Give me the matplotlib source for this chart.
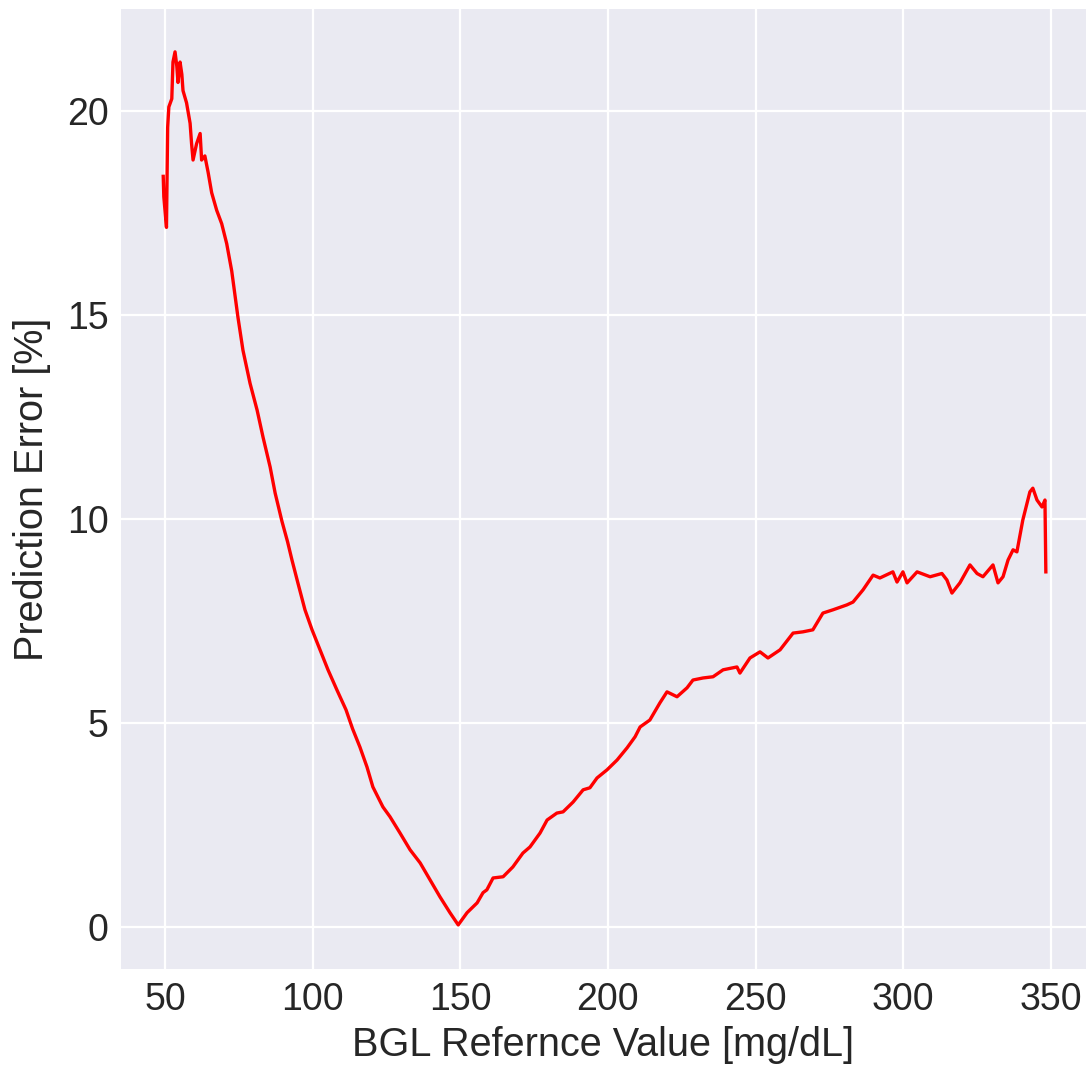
import numpy as np
import matplotlib
matplotlib.use("Agg")
import matplotlib.pyplot as plt

# BGL reference value [mg/dL] and prediction error [%]
bgl = [49.4, 49.6, 50.5, 50.9, 51.3, 52.3, 52.7, 53.4, 54.0, 54.4, 55.1, 55.7,
       56.1, 57.3, 58.5, 59.0, 59.5, 60.7, 61.9, 62.4, 63.5, 64.6, 65.8, 67.5,
       69.2, 70.9, 72.6, 74.7, 76.4, 78.8, 81.2, 83.2, 85.6, 87.3, 89.6, 91.5,
       93.0, 95.0, 97.4, 99.8, 102.5, 105.2, 108.2, 111.3, 113.5, 116.0, 118.4,
       120.4, 123.8, 126.2, 129.6, 133.0, 136.4, 139.8, 143.1, 146.5, 149.3,
       152.3, 153.3, 155.7, 157.7, 159.0, 161.1, 164.5, 167.8, 171.2, 173.6,
       177.0, 179.4, 182.7, 184.8, 188.2, 191.6, 193.9, 196.3, 199.7, 203.1,
       206.5, 209.2, 210.9, 214.2, 217.6, 220.0, 223.4, 226.8, 228.8, 232.2,
       235.6, 239.0, 243.7, 244.7, 248.1, 251.5, 254.2, 258.3, 262.7, 266.0,
       269.4, 272.8, 276.2, 280.9, 283.0, 286.4, 289.8, 292.1, 296.5, 297.9,
       299.9, 301.3, 304.7, 309.1, 313.1, 314.8, 316.5, 319.2, 322.6, 325.0,
       327.0, 330.4, 332.1, 333.8, 335.5, 337.2, 338.5, 340.5, 342.9, 343.9,
       345.3, 347.0, 348.0, 348.3]
err = [18.4, 17.9, 17.15, 19.6, 20.1, 20.3, 21.2, 21.45, 21.1, 20.7, 21.2, 20.9,
       20.5, 20.2, 19.7, 19.2, 18.8, 19.2, 19.45, 18.8, 18.9, 18.5, 18.0, 17.57,
       17.24, 16.75, 16.08, 14.95, 14.14, 13.33, 12.67, 12.01, 11.28, 10.64, 9.95, 9.45,
       9.0, 8.44, 7.78, 7.29, 6.8, 6.31, 5.82, 5.33, 4.87, 4.42, 3.93,
       3.44, 2.95, 2.71, 2.31, 1.9, 1.58, 1.16, 0.75, 0.36, 0.06,
       0.36, 0.43, 0.6, 0.85, 0.92, 1.21, 1.24, 1.48, 1.82, 1.97,
       2.31, 2.63, 2.8, 2.83, 3.07, 3.37, 3.42, 3.66, 3.86, 4.1,
       4.4, 4.67, 4.91, 5.08, 5.5, 5.77, 5.65, 5.87, 6.06, 6.11,
       6.14, 6.31, 6.38, 6.23, 6.6, 6.75, 6.6, 6.8, 7.21, 7.24,
       7.29, 7.7, 7.78, 7.9, 7.97, 8.27, 8.63, 8.56, 8.71, 8.46,
       8.71, 8.44, 8.71, 8.59, 8.67, 8.51, 8.19, 8.44, 8.88, 8.67,
       8.59, 8.88, 8.44, 8.59, 9.0, 9.25, 9.2, 9.98, 10.67, 10.76,
       10.47, 10.3, 10.47, 8.71]

xticks = [50, 100, 150, 200, 250, 300, 350]
yticks = [0, 5, 10, 15, 20]

plt.rcParams['font.family'] = ['Liberation Sans', 'DejaVu Sans']
text_col = '#262626'

fig = plt.figure(figsize=(10.86, 10.66), dpi=100)
ax = fig.add_axes([121/1086, 97/1066, 965/1086, 960/1066])
ax.set_facecolor('#EAEAF2')
for s in ax.spines.values():
	s.set_visible(False)
ax.grid(True, color='white', linewidth=1.6)
ax.set_axisbelow(True)

ax.plot(bgl, err, color='red', linewidth=2.4)

ax.set_xticks(xticks)
ax.set_yticks(yticks)
ax.set_xlim(35.1, 361.9)
ax.set_ylim(-1.02, 22.5)
ax.tick_params(axis='both', length=0, labelsize=27, labelcolor=text_col)
ax.tick_params(axis='x', pad=9)
ax.tick_params(axis='y', pad=9)
ax.set_xlabel('BGL Refernce Value [mg/dL]', fontsize=28.5, color=text_col, labelpad=6)
ax.set_ylabel('Prediction Error [%]', fontsize=28.5, color=text_col, labelpad=11)

fig.savefig('out.png', dpi=100)
